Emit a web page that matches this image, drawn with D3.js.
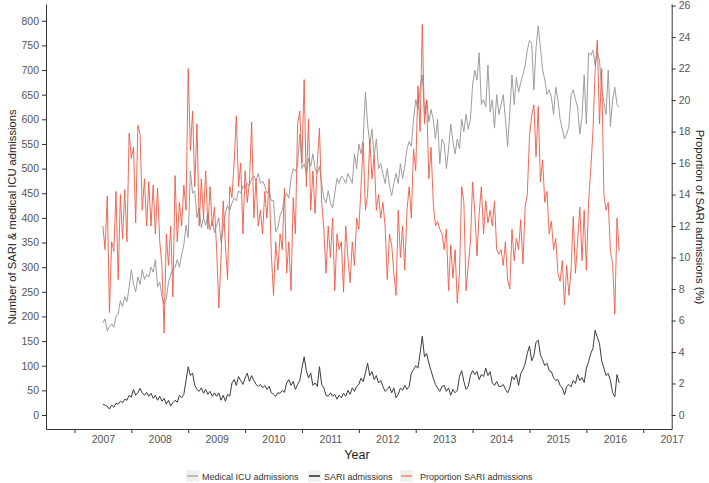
<!DOCTYPE html>
<html>
<head>
<meta charset="utf-8">
<script src="https://cdn.jsdelivr.net/npm/d3@7"></script>
<style>
  body { margin: 0; background: #fff; }
  text { font-family: "Liberation Sans", Arial, sans-serif; }
</style>
</head>
<body>
<svg id="chart" width="709" height="483"></svg>
<script>
// biweekly readings, first point at the start of 2007 (26 per year)
var startYear = 2007, perYear = 26;

var icuAdmissions = [
  187,195,170,180,185,178,200,205,232,220,240,230,258,295,265,250,280,265,295,275,285,280,300,290,315,260,
  270,240,225,235,270,285,295,300,315,300,325,345,385,360,495,450,455,400,420,380,400,385,410,375,395,370,
  385,400,350,380,410,425,415,430,440,435,455,450,465,460,470,465,480,485,475,490,470,475,465,450,455,435,
  435,372,380,405,415,440,450,440,480,500,495,505,570,500,510,490,520,505,530,500,490,505,470,440,430,455,
  430,420,450,480,470,485,480,470,490,480,470,530,500,550,530,560,655,590,550,580,525,560,500,510,490,470,
  500,465,445,470,490,470,510,480,505,540,555,545,600,640,620,665,690,610,640,595,620,600,560,600,510,560,
  550,500,540,590,555,530,560,540,600,575,610,580,600,670,700,680,735,630,640,625,710,615,640,582,650,610,
  630,650,600,545,615,690,630,685,655,675,690,710,740,760,755,660,745,790,745,700,680,650,660,645,610,665,
  640,600,580,560,570,585,650,660,640,625,570,605,690,590,735,730,740,710,735,720,660,635,610,700,585,640,
  665,630,625
];

var sariAdmissions = [
  22,20,18,12,20,16,24,22,28,25,32,30,40,36,52,40,45,54,45,40,46,38,44,34,40,30,
  38,28,34,22,30,18,25,30,26,40,35,42,70,98,80,85,60,52,48,55,44,52,42,48,38,45,
  38,45,30,40,28,42,38,65,72,60,78,70,62,75,85,68,80,70,62,58,62,55,60,52,58,45,
  42,38,45,44,50,46,65,72,60,68,52,62,70,95,118,90,75,85,60,65,58,98,62,55,40,38,
  45,38,42,32,40,35,44,38,50,42,55,48,58,62,75,68,85,105,80,88,72,80,65,70,58,48,
  52,58,45,55,35,42,55,50,60,52,58,85,92,100,95,125,160,118,125,105,90,75,62,55,48,58,
  60,48,55,40,52,45,50,78,90,68,52,58,80,90,82,88,72,82,78,95,80,88,65,60,68,58,
  58,62,52,45,55,78,72,82,60,84,92,104,125,140,110,120,148,152,122,112,100,105,90,88,76,70,
  72,60,55,41,58,62,57,70,64,82,70,76,66,95,108,125,135,172,158,145,110,95,80,84,70,45,
  37,82,65
];

var sariProportion = [
  12.0,10.5,13.9,6.5,11.0,10.4,14.2,8.6,14.0,11.2,14.3,11.0,17.9,16.3,17.0,12.2,18.4,17.8,13.0,15.0,12.0,14.8,12.0,14.6,11.5,14.4,
  11.0,9.5,5.2,11.5,9.5,12.0,7.5,15.2,11.0,13.5,12.0,14.6,13.0,22.0,16.8,19.3,14.5,18.5,12.0,15.0,12.5,15.5,11.8,14.5,12.0,13.2,
  10.5,6.8,10.0,13.6,10.8,8.6,14.5,13.8,16.0,19.0,14.5,16.0,11.5,15.5,13.5,14.8,18.6,12.5,15.0,12.0,13.0,11.5,14.2,12.5,15.0,10.2,
  7.6,11.0,9.2,11.5,10.5,14.4,9.0,11.0,7.9,13.8,11.5,18.5,19.3,16.0,21.3,14.5,18.8,13.0,15.5,12.8,16.0,18.2,13.5,11.8,9.0,12.0,
  10.0,12.5,7.9,11.5,10.5,11.0,7.8,12.0,10.0,8.4,11.0,9.5,12.5,11.8,14.5,17.3,13.0,14.0,17.5,15.0,16.5,13.0,14.0,12.5,13.5,12.0,
  8.6,11.5,10.8,9.0,7.6,13.0,10.0,12.0,9.2,13.0,14.5,12.5,16.9,15.5,20.9,18.0,24.8,18.5,20.0,15.0,17.0,13.5,12.0,12.3,11.8,11.5,
  10.5,11.8,7.9,10.8,8.7,10.5,7.1,9.0,14.5,13.5,7.9,9.5,11.0,14.8,12.9,10.1,12.8,14.5,11.5,13.6,12.2,13.0,12.0,13.6,10.5,10.2,
  10.5,9.5,11.0,8.6,8.0,11.8,9.8,11.2,10.5,12.4,9.6,13.2,14.0,17.7,19.0,19.7,16.4,19.6,14.8,16.2,13.5,14.2,11.5,12.3,10.5,11.2,
  9.0,8.5,9.8,7.0,9.5,7.6,9.2,12.6,9.0,11.0,13.2,9.8,13.0,9.2,13.5,15.6,18.0,21.9,23.8,18.5,22.0,14.0,13.0,13.5,10.4,9.6,
  6.4,12.5,10.4
];

var yearLabels = [2007, 2008, 2009, 2010, 2011, 2012, 2013, 2014, 2015, 2016, 2017];
var countTicks = d3.range(0, 801, 50);
var pctTicks = d3.range(0, 27, 2);

var legendItems = [
  {label: 'Medical ICU admissions', color: '#bdbdbd'},
  {label: 'SARI admissions', color: '#555555'},
  {label: 'Proportion SARI admissions', color: '#f4a08f'}
];

var svg = d3.select('#chart');
var plotLeft = 46, plotRight = 671.7, plotTop = 4, plotBottom = 429;

var x = d3.scaleLinear().domain([2006, 2017]).range([plotLeft, plotRight]);
var yCount = d3.scaleLinear().domain([-28.4, 834]).range([plotBottom, plotTop]);
var yPct = d3.scaleLinear().domain([-0.89, 26.1]).range([plotBottom, plotTop]);

var timeOf = function(i) { return startYear + i / perYear; };

function styleAxis(g) {
  g.select('.domain').attr('stroke', '#333').attr('stroke-width', 1);
  g.selectAll('.tick line').attr('stroke', '#333');
  g.selectAll('.tick text').attr('fill', '#555').style('font-size', '10.5px')
    .style('font-family', '"Liberation Sans", Arial, sans-serif');
}

// x axis: tick marks between years, labels in the middle
svg.append('g').attr('transform', 'translate(0,' + plotBottom + ')')
  .call(d3.axisBottom(x).tickValues(d3.range(2006.5, 2017, 1)).tickFormat('').tickSize(4).tickSizeOuter(0))
  .call(styleAxis);
svg.append('g').attr('transform', 'translate(0,' + plotBottom + ')')
  .call(d3.axisBottom(x).tickValues(yearLabels).tickFormat(d3.format('d')).tickSize(0).tickPadding(7))
  .call(styleAxis)
  .call(function(g) { g.select('.domain').remove(); });

svg.append('g').attr('transform', 'translate(' + plotLeft + ',0)')
  .call(d3.axisLeft(yCount).tickValues(countTicks).tickSize(4).tickPadding(3).tickSizeOuter(0))
  .call(styleAxis);

svg.append('g').attr('transform', 'translate(' + plotRight + ',0)')
  .call(d3.axisRight(yPct).tickValues(pctTicks).tickSize(4).tickPadding(3).tickSizeOuter(0))
  .call(styleAxis);

// series
var countLine = d3.line().x(function(d, i) { return x(timeOf(i)); }).y(function(d) { return yCount(d); });
var pctLine = d3.line().x(function(d, i) { return x(timeOf(i)); }).y(function(d) { return yPct(d); });

svg.append('path').datum(icuAdmissions).attr('d', countLine)
  .attr('fill', 'none').attr('stroke', '#9d9d9d').attr('stroke-width', 1);
svg.append('path').datum(sariAdmissions).attr('d', countLine)
  .attr('fill', 'none').attr('stroke', '#3c3c3c').attr('stroke-width', 1);
svg.append('path').datum(sariProportion).attr('d', pctLine)
  .attr('fill', 'none').attr('stroke', '#ef5a45').attr('stroke-width', 1).attr('stroke-opacity', 0.9);

// titles
svg.append('text').attr('x', 357).attr('y', 459).attr('text-anchor', 'middle')
  .style('font-size', '12.5px').attr('fill', '#222').text('Year');
svg.append('text').attr('transform', 'translate(16,217) rotate(-90)').attr('text-anchor', 'middle')
  .style('font-size', '11.2px').attr('fill', '#222').text('Number of SARI & medical ICU admissions');
svg.append('text').attr('transform', 'translate(696,217) rotate(90)').attr('text-anchor', 'middle')
  .style('font-size', '11.3px').attr('fill', '#222').text('Proportion of SARI admissions (%)');

// legend
var legendX = [186, 308, 400];
var legend = svg.append('g').selectAll('g').data(legendItems).enter().append('g')
  .attr('transform', function(d, i) { return 'translate(' + legendX[i] + ',470)'; });
legend.append('rect').attr('width', 13).attr('height', 12).attr('fill', '#f0f0f0');
legend.append('line').attr('x1', 1).attr('x2', 12).attr('y1', 6).attr('y2', 6)
  .attr('stroke', function(d) { return d.color; }).attr('stroke-width', 2);
legend.append('text').attr('x', function(d, i) { return i === 2 ? 20 : 16; }).attr('y', 9.5)
  .style('font-size', '9px').attr('fill', '#333').text(function(d) { return d.label; });
</script>
</body>
</html>
